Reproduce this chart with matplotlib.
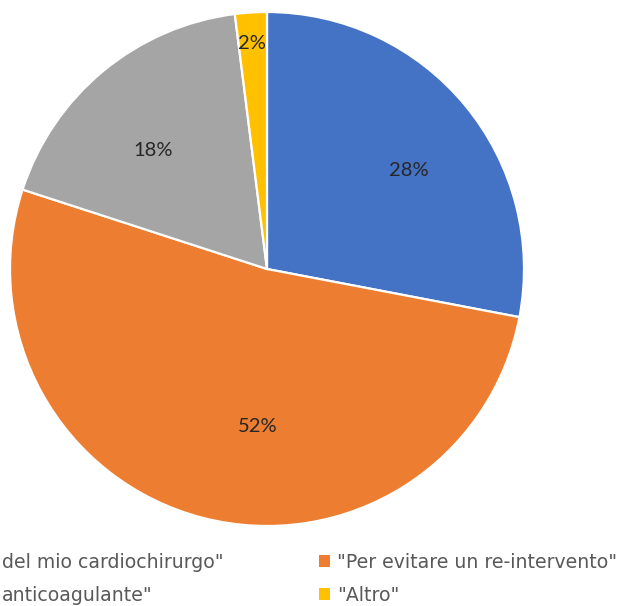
import matplotlib
matplotlib.use("Agg")
import matplotlib.pyplot as plt
from matplotlib.patches import Patch
import numpy as np

# data
labels = ['del mio cardiochirurgo"', '"Per evitare un re-intervento"', 'anticoagulante"', '"Altro"']
values = [28, 52, 18, 2]
colors = ['#4472C4', '#ED7D31', '#A5A5A5', '#FFC000']

# label layout (radius fraction, angle offset in degrees) - styling only
label_r = [0.67, 0.615, 0.64, 0.88]
label_dang = [-4.8, 11.1, 4.2, 0.2]

W, H = 620, 606
fig = plt.figure(figsize=(W / 100, H / 100), dpi=100)
cx, cy, R = 267, 269, 257
ax = fig.add_axes([(cx - R) / W, (H - cy - R) / H, 2 * R / W, 2 * R / H])
wedges, texts = ax.pie(values, colors=colors, startangle=90, counterclock=False,
                       radius=1, wedgeprops=dict(edgecolor='white', linewidth=1.6))
ax.set_xlim(-1, 1)
ax.set_ylim(-1, 1)
ax.set_aspect('equal')
ax.axis('off')

total = sum(values)
for w, v, r, da in zip(wedges, values, label_r, label_dang):
    mid = np.deg2rad((w.theta1 + w.theta2) / 2 + da)
    ax.text(r * np.cos(mid), r * np.sin(mid), f"{round(100 * v / total)}%",
            ha='center', va='center', fontsize=14.5, color='#262626', family='Lato')

fs = 13.6
handles = [Patch(facecolor=c, edgecolor='none') for c in colors]
common = dict(frameon=False, borderpad=0, handlelength=0.58, handleheight=0.58,
              handletextpad=0.37, labelspacing=0.73, borderaxespad=0,
              labelcolor='#595959', prop={'family': 'DejaVu Sans', 'size': fs})
top = 1 - 553 / H
leg1 = fig.legend([handles[0], handles[2]], [labels[0], labels[2]], loc='upper left',
                  bbox_to_anchor=(-16 / W, top), **common)
leg2 = fig.legend([handles[1], handles[3]], [labels[1], labels[3]], loc='upper left',
                  bbox_to_anchor=(319 / W, top), **common)

fig.savefig('out.png', dpi=100)
